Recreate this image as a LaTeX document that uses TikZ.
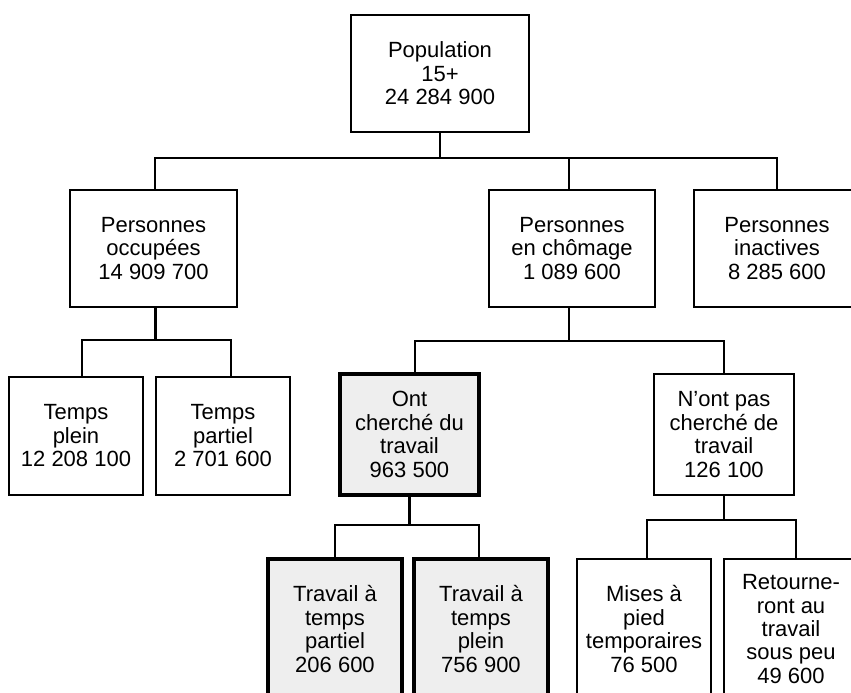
\documentclass[tikz,border=0pt]{standalone}
\usepackage{fontspec}
\setmainfont{Liberation Sans}
\definecolor{boxgray}{RGB}{238,238,238}
\begin{document}
\begin{tikzpicture}[x=0.75pt,y=-0.75pt,
  box/.style={draw=black,line width=1.6pt,fill=white,align=center,inner sep=0pt,
    font=\fontsize{16.5}{17.6}\selectfont},
  shadebox/.style={box,line width=2.6pt,fill=boxgray},
  conn/.style={line width=1.7pt}]
\useasboundingbox (0,0) rectangle (851,693);
\clip (0,0) rectangle (851,693);
% level 1
\node[box,minimum width=133.5pt,minimum height=87.75pt] (pop) at (440,73.5) {Population\\15+\\24 284 900};
% level 2
\node[box,minimum width=125.25pt,minimum height=87.75pt] (occ) at (153.5,248.5) {Personnes\\occupées\\14 909 700};
\node[box,minimum width=124.5pt,minimum height=87.75pt] (cho) at (572,248.5) {Personnes\\en chômage\\1 089 600};
\node[box,minimum width=124.5pt,minimum height=87.75pt] (ina) at (777,248.5) {Personnes\\inactives\\8 285 600};
% level 3
\node[box,minimum width=100.5pt,minimum height=88.5pt] (tpl) at (76,436) {Temps\\plein\\12 208 100};
\node[box,minimum width=100.5pt,minimum height=88.5pt] (tpa) at (223,436) {Temps\\partiel\\2 701 600};
\node[shadebox,minimum width=104.25pt,minimum height=90.75pt] (ont) at (409.5,434.5) {Ont\\cherché du\\travail\\963 500};
\node[box,minimum width=105pt,minimum height=90.75pt] (non) at (724,434.5) {N’ont pas\\cherché de\\travail\\126 100};
% level 4
\node[shadebox,minimum width=100.5pt,minimum height=105pt] (ttp) at (335,629) {Travail à\\temps\\partiel\\206 600};
\node[shadebox,minimum width=100.5pt,minimum height=105pt] (ttf) at (481,629) {Travail à\\temps\\plein\\756 900};
\node[box,minimum width=100.5pt,minimum height=105pt] (mis) at (644,629) {Mises à\\pied\\temporaires\\76 500};
\node[box,minimum width=100.5pt,minimum height=105pt] (ret) at (791,629) {Retourne-\\ront au\\travail\\sous peu\\49 600};
% connectors
\coordinate (j1) at (441,158);
\draw[conn] (pop.south) -- (pop.south |- j1);
\draw[conn] ([xshift=1.2pt]occ.north) |- (ina.north |- j1) -- (ina.north);
\draw[conn] ([xshift=-2.25pt]cho.north) -- ([xshift=-2.25pt]cho.north |- j1);
\path ([xshift=1.5pt]occ.south) ++(0,32) coordinate (j2);
\draw[conn] ([xshift=1.5pt]occ.south) -- (j2);
\draw[conn] ([xshift=4.5pt]tpl.north) |- ([xshift=6pt]tpa.north |- j2) -- ([xshift=6pt]tpa.north);
\path ([xshift=-2.25pt]cho.south) ++(0,33) coordinate (j3);
\draw[conn] ([xshift=-2.25pt]cho.south) -- (j3);
\draw[conn] ([xshift=4pt]ont.north) |- (non.north |- j3) -- (non.north);
\path (ont.south) ++(0,28) coordinate (j4);
\draw[conn] (ont.south) -- (j4);
\draw[conn] (ttp.north) |- ([xshift=-1.5pt]ttf.north |- j4) -- ([xshift=-1.5pt]ttf.north);
\path (non.south) ++(0,24) coordinate (j5);
\draw[conn] (non.south) -- (j5);
\draw[conn] ([xshift=2.25pt]mis.north) |- ([xshift=3.75pt]ret.north |- j5) -- ([xshift=3.75pt]ret.north);
\end{tikzpicture}
\end{document}
